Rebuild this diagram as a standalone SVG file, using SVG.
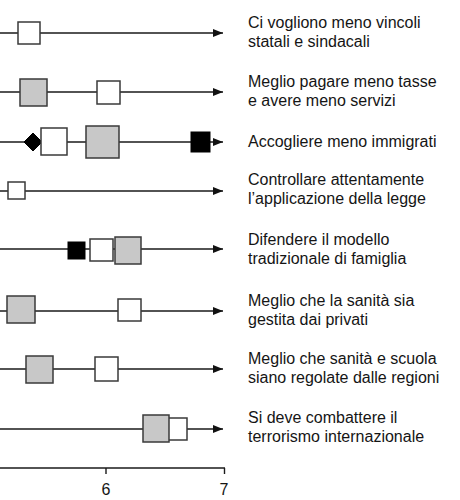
<svg xmlns="http://www.w3.org/2000/svg" width="460" height="500" viewBox="0 0 460 500">
<style>
.ln{stroke:#1a1a1a;stroke-width:1.4;fill:none}
.w{fill:#fff;stroke:#3a3a3a;stroke-width:1.5}
.g{fill:#c8c8c8;stroke:#3a3a3a;stroke-width:1.5}
.b{fill:#000;stroke:#000;stroke-width:1}
.t{font-family:"Liberation Sans",Arial,sans-serif;font-size:16px;fill:#151515}
.ax{font-family:"Liberation Sans",Arial,sans-serif;font-size:16px;fill:#151515;text-anchor:middle}
</style>
<defs>
<marker id="ar" markerWidth="10" markerHeight="8" refX="10" refY="4" orient="auto" markerUnits="userSpaceOnUse">
<path d="M0,0 L10,4 L0,8 Z" fill="#111"/>
</marker>
</defs>
<g id="connectors">
<line class="ln" x1="0" y1="33" x2="223" y2="33" marker-end="url(#ar)"/>
<line class="ln" x1="0" y1="92" x2="223" y2="92" marker-end="url(#ar)"/>
<line class="ln" x1="0" y1="142" x2="223" y2="142" marker-end="url(#ar)"/>
<line class="ln" x1="0" y1="191" x2="223" y2="191" marker-end="url(#ar)"/>
<line class="ln" x1="0" y1="249" x2="223" y2="249" marker-end="url(#ar)"/>
<line class="ln" x1="0" y1="311" x2="223" y2="311" marker-end="url(#ar)"/>
<line class="ln" x1="0" y1="369" x2="223" y2="369" marker-end="url(#ar)"/>
<line class="ln" x1="0" y1="429" x2="223" y2="429" marker-end="url(#ar)"/>
</g>
<g id="row1">
<rect class="w" x="18" y="22" width="22" height="22"/>
<text class="t" x="248" y="28">Ci vogliono meno vincoli</text>
<text class="t" x="248" y="47">statali e sindacali</text>
</g>
<g id="row2">
<rect class="g" x="20" y="79" width="27" height="27"/>
<rect class="w" x="97" y="81" width="23" height="23"/>
<text class="t" x="248" y="87">Meglio pagare meno tasse</text>
<text class="t" x="248" y="106">e avere meno servizi</text>
</g>
<g id="row3">
<path class="b" d="M33,133 L42,142 L33,151 L24,142 Z"/>
<rect class="w" x="41" y="128" width="26" height="27"/>
<rect class="g" x="86" y="126" width="33" height="32"/>
<rect class="b" x="191" y="132" width="19" height="20"/>
<text class="t" x="248" y="147">Accogliere meno immigrati</text>
</g>
<g id="row4">
<rect class="w" x="8" y="182" width="17" height="17"/>
<text class="t" x="248" y="185">Controllare attentamente</text>
<text class="t" x="248" y="204">l’applicazione della legge</text>
</g>
<g id="row5">
<rect class="b" x="68" y="242" width="17" height="17"/>
<rect class="w" x="90" y="239" width="23" height="22"/>
<rect class="g" x="115" y="237" width="26" height="27"/>
<text class="t" x="248" y="245">Difendere il modello</text>
<text class="t" x="248" y="264">tradizionale di famiglia</text>
</g>
<g id="row6">
<rect class="g" x="7" y="296" width="28" height="27"/>
<rect class="w" x="118" y="299" width="23" height="22"/>
<text class="t" x="248" y="306">Meglio che la sanità sia</text>
<text class="t" x="248" y="325">gestita dai privati</text>
</g>
<g id="row7">
<rect class="g" x="26" y="356" width="27" height="27"/>
<rect class="w" x="95" y="357" width="23" height="24"/>
<text class="t" x="248" y="364">Meglio che sanità e scuola</text>
<text class="t" x="248" y="383">siano regolate dalle regioni</text>
</g>
<g id="row8">
<rect class="w" x="165" y="418" width="22" height="22"/>
<rect class="g" x="143" y="415" width="26" height="27"/>
<text class="t" x="248" y="423">Si deve combattere il</text>
<text class="t" x="248" y="442">terrorismo internazionale</text>
</g>
<g id="axis">
<line class="ln" x1="0" y1="468" x2="225" y2="468"/>
<line class="ln" x1="106" y1="468" x2="106" y2="474"/>
<line class="ln" x1="224.5" y1="468" x2="224.5" y2="474"/>
<text class="ax" x="106" y="495">6</text>
<text class="ax" x="224" y="495">7</text>
</g>
</svg>
